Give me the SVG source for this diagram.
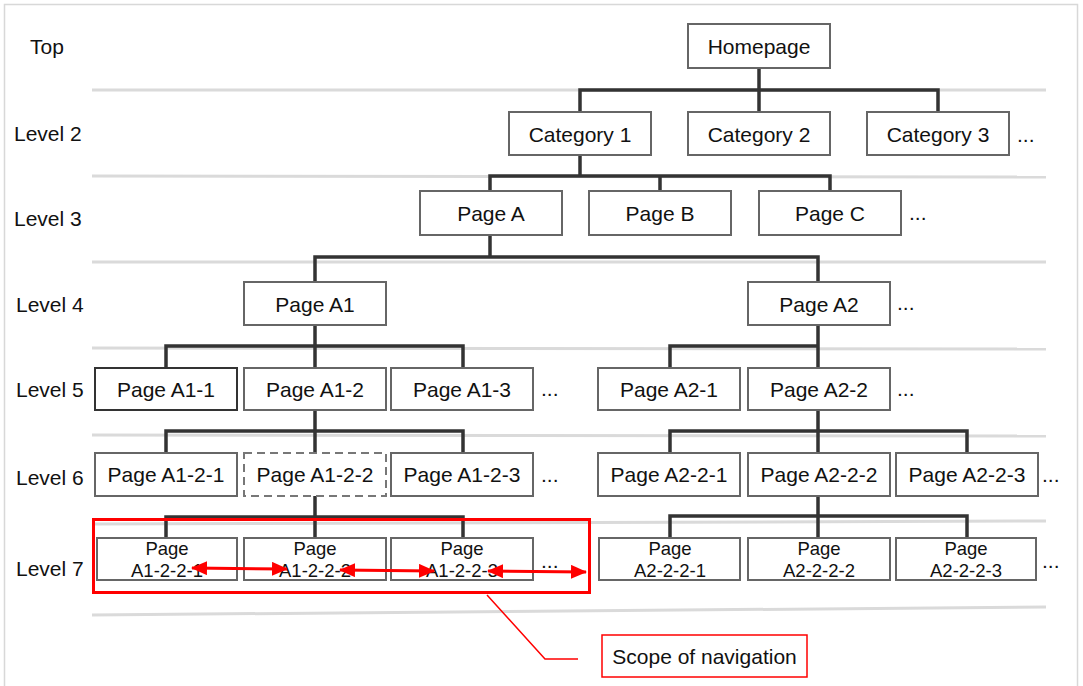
<svg xmlns="http://www.w3.org/2000/svg" width="1083" height="686" viewBox="0 0 1083 686">
<defs>
<style>
.bg{fill:#fff}
.frame{fill:none;stroke:#d8d8d8;stroke-width:1.5}
.sep{stroke:#dadada;stroke-width:3;fill:none}
.box{fill:#fff;stroke:#666;stroke-width:2}
.boxd{fill:#fff;stroke:#333;stroke-width:2}
.dash{fill:#fff;stroke:#777;stroke-width:2;stroke-dasharray:8 5}
.t{font-family:"Liberation Sans",Arial,sans-serif;font-size:21px;fill:#111;text-anchor:middle;dominant-baseline:central}
.lbl{font-family:"Liberation Sans",Arial,sans-serif;font-size:21px;fill:#111}
.s{font-family:"Liberation Sans",Arial,sans-serif;font-size:18.5px;fill:#111;text-anchor:middle}
.conn{fill:none;stroke:#333;stroke-width:3.5}
.red{fill:none;stroke:#f00;stroke-width:3}
.redthin{fill:none;stroke:#f00;stroke-width:1.5}
</style>
<marker id="ah" markerUnits="userSpaceOnUse" markerWidth="16" markerHeight="14" refX="15" refY="7" orient="auto-start-reverse">
<path d="M0,0 L16,7 L0,14 z" fill="#f00"/>
</marker>
</defs>
<rect class="bg" x="0" y="0" width="1083" height="686"/>
<rect class="frame" x="4.5" y="4.5" width="1073" height="690"/>

<g id="separators">
<line class="sep" x1="92" y1="90" x2="1046" y2="90"/>
<line class="sep" x1="92" y1="176" x2="1046" y2="177"/>
<line class="sep" x1="92" y1="262" x2="1046" y2="262"/>
<line class="sep" x1="92" y1="348" x2="1046" y2="349"/>
<line class="sep" x1="92" y1="435" x2="1046" y2="436"/>
<line class="sep" x1="92" y1="524" x2="1046" y2="521"/>
<line class="sep" x1="92" y1="615" x2="1046" y2="607"/>
</g>

<g id="level-labels">
<text class="lbl" x="30" y="54">Top</text>
<text class="lbl" x="14" y="141">Level 2</text>
<text class="lbl" x="14" y="226">Level 3</text>
<text class="lbl" x="16" y="312">Level 4</text>
<text class="lbl" x="16" y="397">Level 5</text>
<text class="lbl" x="16" y="485">Level 6</text>
<text class="lbl" x="16" y="576">Level 7</text>
</g>

<g id="connectors">
<path class="conn" d="M759,68 V90 M580,112 V90 H938 V112 M759,90 V112"/>
<path class="conn" d="M580,155 V176 M490,191 V176 H830 V191 M660,176 V191"/>
<path class="conn" d="M490,235 V257 M315,282 V257 H818 V282"/>
<path class="conn" d="M315,325 V346 M166,368 V346 H463 V368 M315,346 V368"/>
<path class="conn" d="M818,325 V346 M670,368 V346 H818 V368"/>
<path class="conn" d="M315,410 V431 M166,453 V431 H463 V453 M315,431 V453"/>
<path class="conn" d="M818,410 V431 M670,453 V431 H967 V453 M818,431 V453"/>
<path class="conn" d="M315,496 V517 M166,538 V517 H463 V538 M315,517 V538"/>
<path class="conn" d="M818,496 V516 M670,538 V516 H967 V538 M818,516 V538"/>
</g>

<g id="homepage"><rect class="box" x="688" y="24" width="142" height="44"/><text class="t" x="759" y="46">Homepage</text></g>
<g id="category1"><rect class="box" x="509" y="112" width="142" height="43"/><text class="t" x="580" y="134">Category 1</text></g>
<g id="category2"><rect class="box" x="688" y="112" width="142" height="43"/><text class="t" x="759" y="134">Category 2</text></g>
<g id="category3"><rect class="box" x="867" y="112" width="142" height="43"/><text class="t" x="938" y="134">Category 3</text></g>
<g id="dots-l2"><text class="lbl" x="1017" y="142">...</text></g>

<g id="pageA"><rect class="box" x="420" y="191" width="142" height="44"/><text class="t" x="491" y="213">Page A</text></g>
<g id="pageB"><rect class="box" x="589" y="191" width="142" height="44"/><text class="t" x="660" y="213">Page B</text></g>
<g id="pageC"><rect class="box" x="759" y="191" width="142" height="44"/><text class="t" x="830" y="213">Page C</text></g>
<g id="dots-l3"><text class="lbl" x="909" y="220">...</text></g>

<g id="pageA1"><rect class="box" x="244" y="282" width="142" height="43"/><text class="t" x="315" y="304">Page A1</text></g>
<g id="pageA2"><rect class="box" x="748" y="282" width="142" height="43"/><text class="t" x="819" y="304">Page A2</text></g>
<g id="dots-l4"><text class="lbl" x="897" y="310">...</text></g>

<g id="pageA1-1"><rect class="boxd" x="95" y="368" width="142" height="42"/><text class="t" x="166" y="389">Page A1-1</text></g>
<g id="pageA1-2"><rect class="box" x="244" y="368" width="142" height="42"/><text class="t" x="315" y="389">Page A1-2</text></g>
<g id="pageA1-3"><rect class="box" x="391" y="368" width="142" height="42"/><text class="t" x="462" y="389">Page A1-3</text></g>
<g id="dots-l5a"><text class="lbl" x="541" y="396">...</text></g>
<g id="pageA2-1"><rect class="box" x="598" y="368" width="142" height="42"/><text class="t" x="669" y="389">Page A2-1</text></g>
<g id="pageA2-2"><rect class="box" x="748" y="368" width="142" height="42"/><text class="t" x="819" y="389">Page A2-2</text></g>
<g id="dots-l5b"><text class="lbl" x="897" y="396">...</text></g>

<g id="pageA1-2-1"><rect class="box" x="95" y="453" width="142" height="43"/><text class="t" x="166" y="474">Page A1-2-1</text></g>
<g id="pageA1-2-2"><rect class="dash" x="244" y="453" width="142" height="43"/><text class="t" x="315" y="474">Page A1-2-2</text></g>
<g id="pageA1-2-3"><rect class="box" x="391" y="453" width="142" height="43"/><text class="t" x="462" y="474">Page A1-2-3</text></g>
<g id="dots-l6a"><text class="lbl" x="541" y="482">...</text></g>
<g id="pageA2-2-1"><rect class="box" x="598" y="453" width="142" height="43"/><text class="t" x="669" y="474">Page A2-2-1</text></g>
<g id="pageA2-2-2"><rect class="box" x="748" y="453" width="142" height="43"/><text class="t" x="819" y="474">Page A2-2-2</text></g>
<g id="pageA2-2-3"><rect class="box" x="896" y="453" width="142" height="43"/><text class="t" x="967" y="474">Page A2-2-3</text></g>
<g id="dots-l6b"><text class="lbl" x="1042" y="482">...</text></g>

<g id="pageA1-2-2-1"><rect class="box" x="97" y="538" width="140" height="42"/><text class="s" x="167" y="555">Page</text><text class="s" x="167" y="577">A1-2-2-1</text></g>
<g id="pageA1-2-2-2"><rect class="box" x="244" y="538" width="142" height="42"/><text class="s" x="315" y="555">Page</text><text class="s" x="315" y="577">A1-2-2-2</text></g>
<g id="pageA1-2-2-3"><rect class="box" x="391" y="538" width="142" height="42"/><text class="s" x="462" y="555">Page</text><text class="s" x="462" y="577">A1-2-2-3</text></g>
<g id="dots-l7a"><text class="lbl" x="541" y="568">...</text></g>
<g id="pageA2-2-2-1"><rect class="box" x="599" y="538" width="141" height="42"/><text class="s" x="670" y="555">Page</text><text class="s" x="670" y="577">A2-2-2-1</text></g>
<g id="pageA2-2-2-2"><rect class="box" x="748" y="538" width="142" height="42"/><text class="s" x="819" y="555">Page</text><text class="s" x="819" y="577">A2-2-2-2</text></g>
<g id="pageA2-2-2-3"><rect class="box" x="896" y="538" width="140" height="42"/><text class="s" x="966" y="555">Page</text><text class="s" x="966" y="577">A2-2-2-3</text></g>
<g id="dots-l7b"><text class="lbl" x="1042" y="568">...</text></g>

<g id="scope">
<rect class="red" x="93.5" y="519.5" width="496" height="73"/>
<line class="red" x1="192" y1="568" x2="287" y2="569" marker-start="url(#ah)" marker-end="url(#ah)"/>
<line class="red" x1="340" y1="570" x2="434" y2="571" marker-start="url(#ah)" marker-end="url(#ah)"/>
<line class="red" x1="488" y1="571" x2="586" y2="572" marker-start="url(#ah)" marker-end="url(#ah)"/>
<path class="redthin" d="M487,595 L545,659 H578"/>
</g>

<g id="scope-label"><rect class="redthin" x="602" y="635" width="205" height="42"/><text class="t" x="704.5" y="656">Scope of navigation</text></g>
</svg>
